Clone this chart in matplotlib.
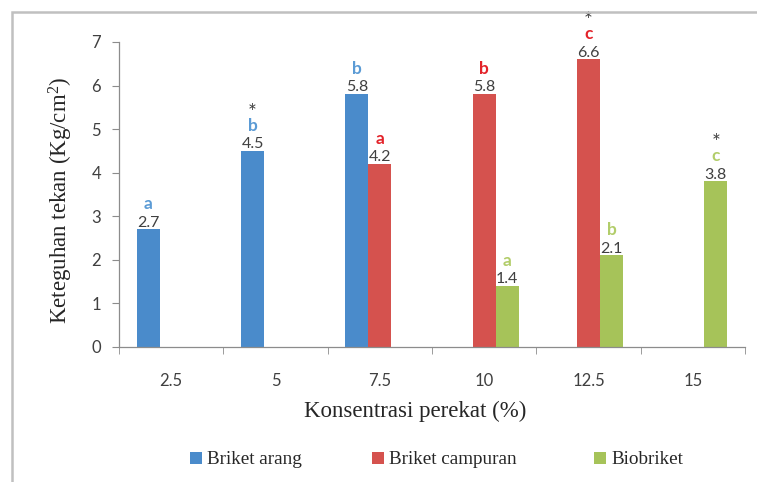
import numpy as np
import matplotlib.pyplot as plt
from matplotlib.patches import Rectangle

categories = ['2.5', '5', '7.5', '10', '12.5', '15']
series_names = ['Briket arang', 'Briket campuran', 'Biobriket']

# nan = no bar for that concentration
arang = [2.7, 4.5, 5.8, np.nan, np.nan, np.nan]
campuran = [np.nan, np.nan, 4.2, 5.8, 6.6, np.nan]
biobriket = [np.nan, np.nan, np.nan, 1.4, 2.1, 3.8]

# significance letters and asterisks above each bar
letters_arang = ['a', 'b', 'b', '', '', '']
letters_campuran = ['', '', 'a', 'b', 'c', '']
letters_bio = ['', '', '', 'a', 'b', 'c']
star_arang = [False, True, False, False, False, False]
star_campuran = [False, False, False, False, True, False]
star_bio = [False, False, False, False, False, True]

bar_colors = ['#4a8bcb', '#d5524e', '#a6c359']
letter_colors = ['#5b9bd5', '#e3232a', '#b2cd6a']

serif = 'Liberation Serif'
num_font = ['Lato', 'DejaVu Sans']
plt.rcParams['mathtext.fontset'] = 'custom'
plt.rcParams['mathtext.rm'] = serif
plt.rcParams['mathtext.it'] = serif + ':italic'

fig = plt.figure(figsize=(7.57, 4.82), dpi=100)
ax = fig.add_axes([0.1572, 0.2801, 0.8270, 0.6328])

# light frame around the chart area (right and bottom edges run off the page)
fig.patches.append(Rectangle((12 / 757, -0.1), 1.2, (470 / 482) + 0.1,
                             transform=fig.transFigure, fill=False,
                             edgecolor='#c0c0c0', linewidth=1.8, zorder=0))

x = np.arange(len(categories))
w = 0.22
all_vals = [arang, campuran, biobriket]
all_letters = [letters_arang, letters_campuran, letters_bio]
all_stars = [star_arang, star_campuran, star_bio]
offsets = [-w, 0, w]

handles = []
for vals, letters, stars, off, col, lcol, name in zip(
        all_vals, all_letters, all_stars, offsets, bar_colors, letter_colors, series_names):
    vals = np.array(vals, dtype=float)
    bars = ax.bar(x + off, vals, width=w, color=col, label=name, zorder=2)
    handles.append(bars)
    for xi, v, let, st in zip(x + off, vals, letters, stars):
        if np.isnan(v):
            continue
        ax.annotate(f'{v:.1f}', (xi, v), xytext=(0, 2), textcoords='offset points',
                    ha='center', va='baseline', fontsize=11.5, color='#404040',
                    family=num_font)
        ax.annotate(let, (xi, v), xytext=(0, 14.5), textcoords='offset points',
                    ha='center', va='baseline', fontsize=12.5, color=lcol,
                    fontweight='bold', family=num_font)
        if st:
            ax.annotate('*', (xi, v), xytext=(0, 23), textcoords='offset points',
                        ha='center', va='baseline', fontsize=15, color='#404040',
                        family=num_font)

ax.set_xlim(-0.5, len(categories) - 0.5)
ax.set_ylim(0, 7)
ax.set_yticks(range(0, 8))
ax.set_xticks(x)
ax.set_xticklabels(categories)
ax.set_xticks(np.arange(-0.5, len(categories)), minor=True)

for side in ['top', 'right']:
    ax.spines[side].set_visible(False)
for side in ['left', 'bottom']:
    ax.spines[side].set_color('#8c8c8c')
    ax.spines[side].set_linewidth(0.9)

ax.tick_params(axis='y', length=5, color='#8c8c8c', labelsize=12,
               labelcolor='#404040', pad=8)
ax.tick_params(axis='x', which='major', length=0, labelsize=12,
               labelcolor='#404040', pad=19)
ax.tick_params(axis='x', which='minor', length=5, color='#8c8c8c')
for lab in ax.get_xticklabels() + ax.get_yticklabels():
    lab.set_family(num_font)

ax.set_xlabel('Konsentrasi perekat (%)', family=serif, fontsize=16.5,
              color='#262626')
ax.xaxis.set_label_coords(0.473, -0.176)
ax.set_ylabel('Keteguhan tekan (Kg/cm$^2$)', family=serif, fontsize=16.5,
              color='#262626')
ax.yaxis.set_label_coords(-0.07, 0.482)

# one legend entry per slot so each sits at its own place along the bottom
legend_x = [190, 372, 594]
for h, name, lx in zip(handles, series_names, legend_x):
    leg = fig.legend([h], [name], loc='center left',
                     bbox_to_anchor=(lx / 757, 1 - 460 / 482),
                     frameon=False, prop={'family': serif, 'size': 13.8},
                     handlelength=0.6, handleheight=0.6, handletextpad=0.3,
                     borderpad=0, borderaxespad=0)
    for t in leg.get_texts():
        t.set_color('#262626')

fig.savefig('out.png', dpi=100)
